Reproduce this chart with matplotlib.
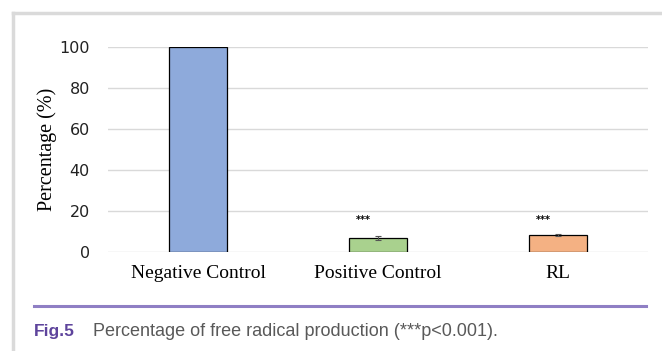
import matplotlib.pyplot as plt
from matplotlib.lines import Line2D

# data
groups = ['Negative Control', 'Positive Control', 'RL']
values = [100, 6.8, 8.4]
errors = [0, 0.9, 0.5]
stars = ['', '***', '***']
bar_colors = ['#8eaadb', '#a9d18e', '#f4b183']

fig = plt.figure(figsize=(6.62, 3.51), dpi=100)
ax = fig.add_axes([0.163, 0.282, 0.816, 0.584])

x = list(range(len(groups)))
ax.bar(x, values, width=0.32, color=bar_colors, edgecolor='black', linewidth=0.9, zorder=3)
# error bars only where there is an error
ex = [xi for xi, e in zip(x, errors) if e > 0]
ev = [v for v, e in zip(values, errors) if e > 0]
ee = [e for e in errors if e > 0]
ax.errorbar(ex, ev, yerr=ee, fmt='none', ecolor='#555555', elinewidth=0.8,
            capsize=2.5, capthick=0.8, zorder=4)
for xi, s in zip(x, stars):
    if s:
        ax.text(xi - 0.08, 15.5, s, ha='center', va='center', fontsize=7,
                fontweight='bold', family='DejaVu Sans')

ax.set_xlim(-0.5, 2.5)
ax.set_ylim(0, 100)
ax.set_yticks([0, 20, 40, 60, 80, 100])
ax.yaxis.grid(True, color='#d9d9d9', linewidth=1, zorder=0)
ax.set_axisbelow(True)
for sp in ax.spines.values():
    sp.set_visible(False)
ax.tick_params(axis='both', length=0)
ax.tick_params(axis='y', pad=13, labelsize=11.5, labelcolor='#222222')
ax.tick_params(axis='x', pad=9, labelsize=14)
ax.set_xticks(x)
ax.set_xticklabels(groups, family='Liberation Serif')
ax.set_ylabel('Percentage (%)', family='Liberation Serif', fontsize=14.5, labelpad=2)

# frame and caption
fig.add_artist(Line2D([0.019, 0.019], [0, 0.963], transform=fig.transFigure,
                      color='#dadada', linewidth=2.5))
fig.add_artist(Line2D([0.019, 1.0], [0.963, 0.963], transform=fig.transFigure,
                      color='#dadada', linewidth=2.5))
fig.add_artist(Line2D([0.051, 0.976], [0.128, 0.128], transform=fig.transFigure,
                      color='#8f7fc4', linewidth=2.2))
fig.text(0.051, 0.055, 'Fig.5', fontsize=12.5, fontweight='bold', color='#5e449c',
         family='Liberation Sans', va='center')
fig.text(0.14, 0.055, 'Percentage of free radical production (***p<0.001).', fontsize=13,
         color='#595959', family='Liberation Sans', va='center')

fig.savefig('out.png', dpi=100, facecolor='white')
